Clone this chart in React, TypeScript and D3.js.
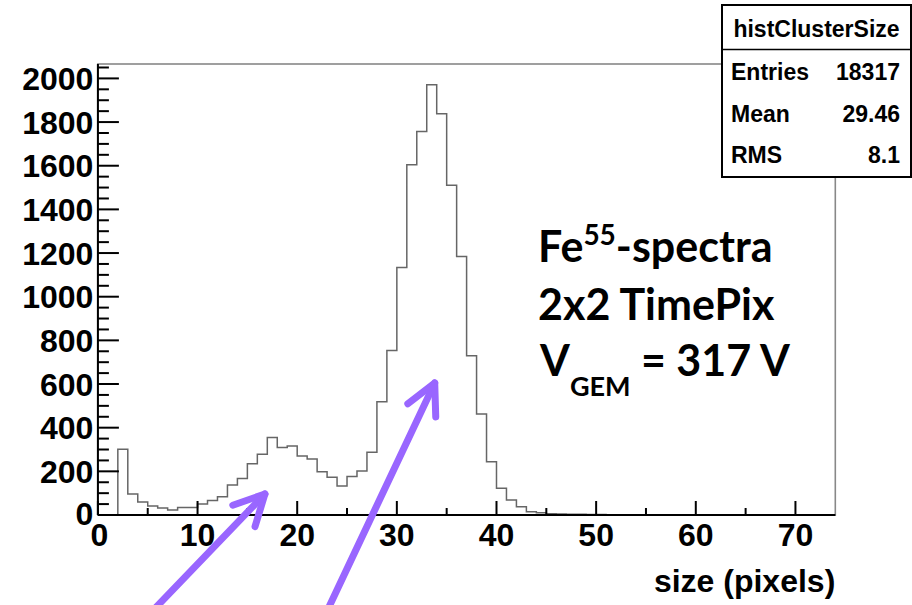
import * as d3 from 'd3'

// bin contents of histClusterSize, one bin per pixel count (0..73)
const binCounts = [
  0, 0, 301, 96, 60, 41, 32, 23, 34, 34,
  50, 66, 84, 138, 167, 235, 278, 355, 309, 316,
  270, 257, 198, 173, 133, 176, 202, 287, 519, 753,
  1134, 1604, 1757, 1971, 1838, 1511, 1184, 730, 463, 244,
  122, 69, 38, 15, 10, 6, 5, 3, 3, 2,
  2, 1, 1, 1, 0, 1, 0, 0, 1, 0,
  0, 0, 0, 0, 0, 0, 0, 0, 0, 0,
  0, 0, 0, 0,
]
const xTicks = [0, 10, 20, 30, 40, 50, 60, 70]
const yTicks = [0, 200, 400, 600, 800, 1000, 1200, 1400, 1600, 1800, 2000]
const statLabels = ['Entries', 'Mean', 'RMS']
const statValues = ['18317', '29.46', '8.1']
// arrows in data coordinates: [tail, tip]
const arrows: [number, number][][] = [
  [[5.07, -459], [16.76, 96]],
  [[22.8, -459], [33.8, 605]],
]

const W = 912
const H = 605
const FONT = '"Liberation Sans", Arial, Helvetica, sans-serif'
const PURPLE = '#9966ff'

export default function App() {
  const x = d3.scaleLinear().domain([0, 74]).range([97.9, 835.3])
  const y = d3.scaleLinear().domain([0, 2066]).range([515, 64])

  // step outline like ROOT's default histogram drawing
  const pts: [number, number][] = [[0, 0]]
  binCounts.forEach((v, i) => pts.push([i, v]))
  pts.push([binCounts.length, binCounts[binCounts.length - 1]])
  pts.push([binCounts.length, 0])
  const line = d3.line<[number, number]>()
    .x(d => x(d[0]))
    .y(d => y(d[1]))
    .curve(d3.curveStepAfter)

  const yMinor = d3.range(0, 2066, 50).filter(v => v % 200 !== 0)
  const xMinor = d3.range(5, 74, 10)

  const headLen = 34
  const headAng = (27 * Math.PI) / 180

  return (
    <svg width={W} height={H} style={{ position: 'absolute', left: 0, top: 0, background: '#fff' }}
      fontFamily={FONT}>
      {/* frame */}
      <rect x={x(0)} y={y(2066)} width={x(74) - x(0)} height={y(0) - y(2066)}
        fill="none" stroke="#888" strokeWidth={1.6} />

      {/* histogram */}
      <path d={line(pts) ?? ''} fill="none" stroke="#666" strokeWidth={1.5} />

      {/* y axis */}
      <line x1={x(0)} x2={x(0)} y1={y(0)} y2={y(2066)} stroke="#000" strokeWidth={2} />
      {yTicks.map(t => (
        <g key={t}>
          <line x1={x(0)} x2={x(0) + 21} y1={y(t)} y2={y(t)} stroke="#000" strokeWidth={2} />
          <text x={x(0) - 4.5} y={t === 0 ? y(t) - 2 : y(t)} dy="0.36em" textAnchor="end" fontSize={32} fontWeight="bold">{t}</text>
        </g>
      ))}
      {yMinor.map(t => (
        <line key={t} x1={x(0)} x2={x(0) + 11} y1={y(t)} y2={y(t)} stroke="#000" strokeWidth={2} />
      ))}

      {/* x axis */}
      <line x1={x(0)} x2={x(74)} y1={y(0)} y2={y(0)} stroke="#000" strokeWidth={2} />
      {xTicks.map(t => (
        <g key={t}>
          <line x1={x(t)} x2={x(t)} y1={y(0)} y2={y(0) - 14} stroke="#000" strokeWidth={2} />
          <text x={t === 0 ? x(t) + 1.5 : x(t)} y={546} textAnchor="middle" fontSize={32} fontWeight="bold">{t}</text>
        </g>
      ))}
      {xMinor.map(t => (
        <line key={t} x1={x(t)} x2={x(t)} y1={y(0)} y2={y(0) - 7} stroke="#000" strokeWidth={2} />
      ))}
      <text x={x(74)} y={592} textAnchor="end" fontSize={32} fontWeight="bold">size (pixels)</text>

      {/* stats box */}
      <rect x={722} y={5} width={189} height={172} fill="#fff" stroke="#000" strokeWidth={2} />
      <line x1={722} x2={911} y1={49.5} y2={49.5} stroke="#000" strokeWidth={1.5} />
      <text x={816.5} y={37} textAnchor="middle" fontSize={23} fontWeight="bold">histClusterSize</text>
      {statLabels.map((s, i) => (
        <g key={s}>
          <text x={731} y={80 + i * 41.7} fontSize={23} fontWeight="bold">{s}</text>
          <text x={900} y={80 + i * 41.7} textAnchor="end" fontSize={23} fontWeight="bold">{statValues[i]}</text>
        </g>
      ))}

      {/* annotation */}
      <g fontFamily='Lato, "Open Sans", sans-serif' fontWeight="bold" fontSize={43} fill="#000">
        <text x={538} y={262}>Fe<tspan fontSize={28} dy={-17}>55</tspan><tspan dy={17}>-spectra</tspan></text>
        <text x={538} y={320}>2x2 TimePix</text>
        <text x={540} y={376}>V<tspan fontSize={27} dy={20}>GEM</tspan><tspan dy={-20}> = 317 V</tspan></text>
      </g>

      {/* arrows */}
      {arrows.map(([tail, tip], i) => {
        const x0 = x(tail[0]), y0 = y(tail[1]), x1 = x(tip[0]), y1 = y(tip[1])
        const back = Math.atan2(y0 - y1, x0 - x1)
        const a1 = back + headAng, a2 = back - headAng
        return (
          <g key={i} stroke={PURPLE} strokeWidth={7} strokeLinecap="round" strokeLinejoin="round" fill="none">
            <line x1={x0} y1={y0} x2={x1} y2={y1} />
            <polyline points={`${x1 + headLen * Math.cos(a1)},${y1 + headLen * Math.sin(a1)} ${x1},${y1} ${x1 + headLen * Math.cos(a2)},${y1 + headLen * Math.sin(a2)}`} />
          </g>
        )
      })}
    </svg>
  )
}
